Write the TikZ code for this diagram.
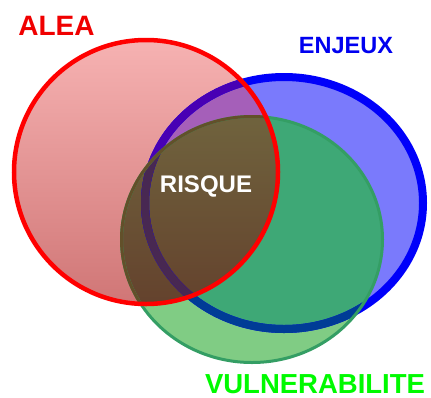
\documentclass[tikz,border=0pt]{standalone}
\usepackage{fontspec}
\setmainfont{Liberation Sans}
\begin{document}
\begin{tikzpicture}[x=1pt,y=-1pt,
  lbl/.style={font=\bfseries, inner sep=0pt, anchor=base}]
\definecolor{bonly}{RGB}{122,122,252}
\definecolor{gonly}{RGB}{128,204,132}
\definecolor{gb}{RGB}{62,168,118}
\definecolor{rtop}{RGB}{246,178,178}
\definecolor{rbot}{RGB}{208,118,118}
\definecolor{rb}{RGB}{165,95,185}
\definecolor{rg}{RGB}{148,118,60}
\definecolor{rgbtop}{RGB}{112,100,62}
\definecolor{rgbbot}{RGB}{100,66,45}
\definecolor{bline}{RGB}{0,0,250}
\definecolor{blineg}{RGB}{0,60,150}
\definecolor{bliner}{RGB}{72,0,180}
\definecolor{blinerg}{RGB}{72,40,82}
\definecolor{gline}{RGB}{52,158,100}
\definecolor{gliner}{RGB}{98,80,42}
\definecolor{rline}{RGB}{255,0,0}
\definecolor{alea}{RGB}{240,0,0}
\definecolor{enjeux}{RGB}{0,0,240}
\definecolor{vuln}{RGB}{0,250,0}
\def\Rpath{(146,172) circle [radius=132pt]}
\def\Bpath{(284,203) ellipse [x radius=139pt, y radius=126pt]}
\def\Gpath{(252,239.5) ellipse [x radius=130.5pt, y radius=123pt]}
\useasboundingbox (0,0) rectangle (431,397);
\fill[white] (0,0) rectangle (431,397);
% fills
\fill[bonly] \Bpath;
\fill[gonly] \Gpath;
\begin{scope}
  \clip \Gpath;
  \fill[gb] \Bpath;
\end{scope}
\shade[top color=rtop, bottom color=rbot] \Rpath;
\begin{scope}
  \clip \Rpath;
  \fill[rb] \Bpath;
  \fill[rg] \Gpath;
  \begin{scope}
    \clip \Gpath;
    \shade[top color=rgbtop, bottom color=rgbbot] (120,110) rectangle (280,305);
  \end{scope}
\end{scope}
% blue border
\draw[bline, line width=8pt] \Bpath;
\begin{scope}
  \clip \Gpath;
  \draw[blineg, line width=8pt] \Bpath;
\end{scope}
\begin{scope}
  \clip \Rpath;
  \draw[bliner, line width=8pt] \Bpath;
  \clip \Gpath;
  \draw[blinerg, line width=8pt] \Bpath;
\end{scope}
% green border
\draw[gline, line width=3pt] \Gpath;
\begin{scope}
  \clip \Rpath;
  \draw[gliner, line width=3pt] \Gpath;
\end{scope}
% red border
\draw[rline, line width=4.5pt] \Rpath;
% labels
\node[lbl, text=alea, font=\bfseries\fontsize{28}{28}\selectfont] (alea) at (56.5,35) {ALEA};
\node[lbl, text=enjeux, font=\bfseries\fontsize{23.5}{23.5}\selectfont] (enjeux) at (346,53) {ENJEUX};
\node[lbl, text=white, font=\bfseries\fontsize{24}{24}\selectfont] (risque) at (206,192) {RISQUE};
\node[lbl, text=vuln, font=\bfseries\fontsize{27.5}{27.5}\selectfont] (vuln) at (315,393.5) {VULNERABILITE};
\end{tikzpicture}
\end{document}
